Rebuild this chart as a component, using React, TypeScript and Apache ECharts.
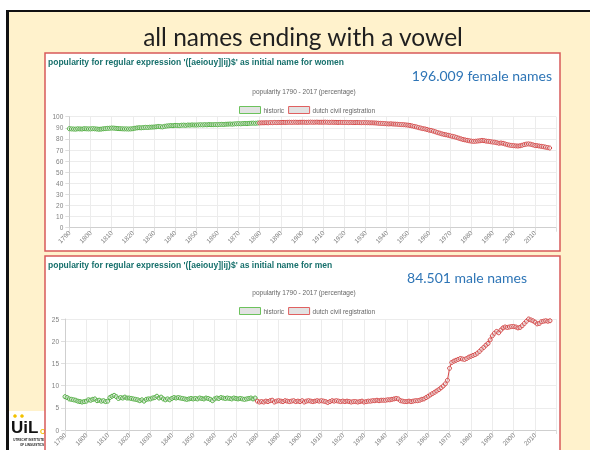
import React, { useEffect, useRef } from "react";
import * as echarts from "echarts";

const slideTitle = "all names ending with a vowel";
const womenTitle = "popularity for regular expression '([aeiouy]|ij)$' as initial name for women";
const menTitle = "popularity for regular expression '([aeiouy]|ij)$' as initial name for men";
const subTitle = "popularity 1790 - 2017 (percentage)";
const womenCount = "196.009 female names";
const menCount = "84.501 male names";
const seriesNames = ["historic", "dutch civil registration"];

const historicStart = 1790;
const civilStart = 1880;

const womenHistoric = [
  89.2, 89.0, 88.9, 88.8, 89.1, 89.0, 88.9, 89.2, 89.1, 89.0,
  89.0, 89.2, 89.1, 88.9, 88.7, 88.8, 89.1, 89.3, 89.5, 89.6,
  89.8, 89.7, 89.5, 89.3, 89.2, 89.1, 89.0, 89.0, 88.9, 89.0,
  89.2, 89.6, 89.9, 90.1, 90.0, 90.2, 90.4, 90.3, 90.5, 90.6,
  90.7, 90.9, 91.2, 91.0, 90.8, 91.3, 91.6, 91.8, 92.0, 91.9,
  92.2, 92.1, 92.0, 92.3, 92.4, 92.2, 92.5, 92.4, 92.6, 92.5,
  92.5, 92.6, 92.7, 92.6, 92.8, 92.7, 92.9, 92.8, 92.8, 92.9,
  92.8, 93.0, 93.1, 93.0, 93.2, 93.3, 93.4, 93.3, 93.5, 93.6,
  93.7, 93.6, 93.8, 93.9, 93.8, 94.0, 94.1, 94.2, 94.1, 94.3,
];
const womenCivil = [
  94.4, 94.5, 94.5, 94.6, 94.5, 94.7, 94.6, 94.8, 94.7, 94.8,
  94.8, 94.9, 94.8, 94.9, 95.0, 94.9, 95.0, 95.0, 94.9, 95.0,
  95.0, 95.0, 94.9, 95.0, 95.1, 95.0, 95.0, 95.1, 95.0, 95.0,
  95.0, 95.1, 95.0, 94.9, 95.0, 94.9, 94.9, 94.8, 94.9, 94.8,
  94.8, 94.8, 94.7, 94.8, 94.7, 94.7, 94.8, 94.7, 94.6, 94.7,
  94.6, 94.6, 94.5, 94.5, 94.4, 94.3, 94.1, 94.0, 93.9, 93.8,
  93.6, 93.5, 93.6, 93.4, 93.3, 93.2, 93.0, 92.9, 92.8, 92.6,
  92.4, 92.1, 91.7, 91.2, 90.8, 90.2, 89.8, 89.3, 89.0, 88.5,
  87.9, 87.6, 87.0, 86.4, 85.7, 85.2, 84.6, 84.1, 83.7, 83.3,
  82.8, 82.3, 81.9, 81.3, 80.7, 80.1, 79.5, 79.1, 78.7, 78.3,
  78.0, 77.8, 77.9, 78.1, 78.3, 78.6, 78.4, 78.0, 77.8, 77.5,
  77.2, 77.0, 76.6, 76.1, 76.3, 76.0, 75.4, 74.8, 74.4, 74.1,
  73.9, 73.7, 73.6, 73.8, 74.3, 74.9, 75.3, 75.5, 75.2, 74.7,
  74.1, 73.9, 73.6, 73.3, 73.0, 72.6, 72.2, 71.8,
];
const menHistoric = [
  7.5, 7.3, 7.0, 6.9, 6.8, 6.7, 6.5, 6.4, 6.3, 6.4,
  6.5, 6.8, 6.7, 6.9, 7.0, 6.6, 6.7, 6.5, 6.6, 6.4,
  6.5, 7.3, 7.6, 7.8, 7.5, 7.1, 7.3, 7.2, 7.4, 7.2,
  7.2, 7.1, 7.0, 6.9, 6.8, 6.6, 6.8, 6.5, 6.9, 7.0,
  7.0, 7.2, 7.3, 7.6, 7.2, 7.4, 7.0, 6.8, 7.0, 6.8,
  7.1, 7.3, 7.2, 7.3, 7.2, 7.1, 7.0, 6.9, 7.0, 7.1,
  7.0, 7.1, 7.0, 7.2, 7.1, 7.0, 7.2, 7.1, 6.9, 6.6,
  7.0, 7.2, 7.1, 7.3, 7.2, 7.1, 7.2, 7.1, 7.0, 7.2,
  7.1, 7.0, 7.1, 7.0, 6.9, 7.0, 7.1, 7.2, 7.0, 7.2,
];
const menCivil = [
  6.5, 6.3, 6.4, 6.3, 6.5, 6.4, 6.6, 6.7, 6.3, 6.5,
  6.6, 6.5, 6.4, 6.6, 6.5, 6.4, 6.5, 6.6, 6.4, 6.5,
  6.4, 6.6, 6.3, 6.5, 6.6, 6.5, 6.4, 6.5, 6.6, 6.5,
  6.6, 6.5, 6.4, 6.2, 6.4, 6.6, 6.5, 6.6, 6.5, 6.4,
  6.5, 6.4, 6.5, 6.4, 6.3, 6.4, 6.4, 6.3, 6.4, 6.5,
  6.3, 6.4, 6.5, 6.5, 6.6, 6.6, 6.7, 6.6, 6.7, 6.7,
  6.7, 6.8, 6.8, 6.9, 7.0, 7.1, 7.0, 6.6, 6.5, 6.4,
  6.4, 6.5, 6.4, 6.5, 6.6, 6.6, 6.7, 6.9, 7.0, 7.3,
  7.6, 7.9, 8.2, 8.5, 8.8, 9.1, 9.5, 9.9, 10.4, 11.2,
  13.9, 15.2, 15.5, 15.7, 15.9, 16.1, 16.0, 15.9, 16.1, 16.4,
  16.6, 16.8, 17.0, 17.3, 17.7, 18.2, 18.6, 19.1, 19.5, 20.3,
  21.2, 21.8, 22.2, 21.9, 22.5, 23.0, 23.2, 23.1, 23.2, 23.3,
  23.3, 23.2, 23.0, 23.1, 23.5, 24.0, 24.5, 25.0, 24.8, 24.6,
  24.3, 23.9, 24.0, 24.4, 24.5, 24.6, 24.5, 24.6,
];

const GREEN = "#4eae3e";
const RED = "#d64545";
const FONT = "Liberation Sans, Arial, sans-serif";

const toPairs = (start: number, vals: number[]) => vals.map((v, i) => [start + i, v]);

export default function App() {
  const ref = useRef<HTMLDivElement>(null);
  useEffect(() => {
    if (!ref.current) return;
    const chart = echarts.init(ref.current, null, { renderer: "svg" });

    const xAxisBase = (gridIndex: number) => ({
      type: "value" as const,
      gridIndex,
      min: 1790,
      max: 2020,
      interval: 10,
      axisLine: { show: true, lineStyle: { color: "#cfcfcf" } },
      axisTick: { show: true, length: 4, lineStyle: { color: "#dedede" } },
      splitLine: { show: true, lineStyle: { color: "#ececec" } },
      axisLabel: {
        rotate: 45,
        fontSize: 6.5,
        color: "#808080",
        fontFamily: FONT,
        margin: 4,
        formatter: (v: number) => (v === 2020 ? "" : String(v)),
      },
    });
    const yAxisBase = (gridIndex: number, max: number, interval: number) => ({
      type: "value" as const,
      gridIndex,
      min: 0,
      max,
      interval,
      axisLine: { show: true, lineStyle: { color: "#cfcfcf" } },
      axisTick: { show: true, length: 4, lineStyle: { color: "#dedede" } },
      splitLine: { show: true, lineStyle: { color: "#ececec" } },
      axisLabel: { fontSize: 6.5, color: "#808080", fontFamily: FONT, margin: 6 },
    });
    const lineSeries = (name: string, color: string, idx: number, data: number[][]) => ({
      type: "line" as const,
      name,
      xAxisIndex: idx,
      yAxisIndex: idx,
      data,
      symbol: "circle",
      symbolSize: 4,
      showSymbol: true,
      lineStyle: { color, width: 1 },
      itemStyle: { color: "rgba(235,235,235,0.6)", borderColor: color, borderWidth: 1 },
      z: 3,
    });
    const legendData = [
      { name: seriesNames[0], itemStyle: { color: "#e2e2e2", borderColor: "#6cc25c", borderWidth: 1 } },
      { name: seriesNames[1], itemStyle: { color: "#e2e2e2", borderColor: "#e06060", borderWidth: 1 } },
    ];
    const legendBase = (top: number) => ({
      top,
      left: 234,
      data: legendData,
      icon: "rect",
      itemWidth: 21,
      itemHeight: 7,
      itemGap: 4,
      textStyle: { fontSize: 6.5, color: "#666", fontFamily: FONT, padding: [0, 0, 0, -2] },
      selectedMode: false,
    });

    const bg = (o: any) => ({ ...o, z: -10, silent: true });

    chart.setOption({
      animation: false,
      graphic: [
        bg({ type: "rect", shape: { x: 0, y: 0, width: 590, height: 450 }, style: { fill: "#ffffff" } }),
        bg({ type: "rect", shape: { x: 9, y: 12, width: 581, height: 438 }, style: { fill: "#fff2cc" } }),
        bg({ type: "line", shape: { x1: 6, y1: 11, x2: 590, y2: 11 }, style: { stroke: "#111", lineWidth: 2 } }),
        bg({ type: "line", shape: { x1: 7.5, y1: 10, x2: 7.5, y2: 450 }, style: { stroke: "#111", lineWidth: 3 } }),
        bg({ type: "rect", shape: { x: 9, y: 411, width: 36, height: 39 }, style: { fill: "#ffffff" } }),
        bg({ type: "text", x: 11, y: 419, style: { text: "UiL", fill: "#111", font: "bold 17px Liberation Sans" } }),
        bg({ type: "circle", shape: { cx: 15, cy: 416, r: 1.8 }, style: { fill: "#f2c200" } }),
        bg({ type: "circle", shape: { cx: 22, cy: 416, r: 1.8 }, style: { fill: "#f2c200" } }),
        bg({ type: "text", x: 40, y: 428, style: { text: "OTS", fill: "#f2c200", font: "bold 7px Liberation Sans" } }),
        bg({ type: "text", x: 44, y: 438, style: { text: "UTRECHT INSTITUTE", fill: "#222", font: "bold 3px Liberation Sans", align: "right" } }),
        bg({ type: "text", x: 44, y: 443, style: { text: "OF LINGUISTICS", fill: "#222", font: "bold 3px Liberation Sans", align: "right" } }),
        bg({ type: "text", x: 303, y: 36, style: { text: slideTitle, fill: "#1f1f1f", font: "24.5px Lato", align: "center", verticalAlign: "middle" } }),
        bg({ type: "rect", shape: { x: 45, y: 53, width: 515, height: 198 }, style: { fill: "#ffffff", stroke: "#d85a5a", lineWidth: 1.5 } }),
        bg({ type: "rect", shape: { x: 45, y: 256, width: 515, height: 200 }, style: { fill: "#ffffff", stroke: "#d85a5a", lineWidth: 1.5 } }),
        { type: "text", x: 48, y: 62, silent: true, style: { text: womenTitle, fill: "#17706c", font: `bold 8.5px ${FONT}`, verticalAlign: "middle" } },
        { type: "text", x: 48, y: 265, silent: true, style: { text: menTitle, fill: "#17706c", font: `bold 8.5px ${FONT}`, verticalAlign: "middle" } },
        { type: "text", x: 552, y: 75, silent: true, style: { text: womenCount, fill: "#2e75b6", font: "14px Lato", align: "right", verticalAlign: "middle" } },
        { type: "text", x: 527, y: 277, silent: true, style: { text: menCount, fill: "#2e75b6", font: "14px Lato", align: "right", verticalAlign: "middle" } },
        { type: "text", x: 304, y: 91, silent: true, style: { text: subTitle, fill: "#666", font: `6.5px ${FONT}`, align: "center", verticalAlign: "middle" } },
        { type: "text", x: 304, y: 292, silent: true, style: { text: subTitle, fill: "#666", font: `6.5px ${FONT}`, align: "center", verticalAlign: "middle" } },
      ],
      legend: [legendBase(101), legendBase(302)],
      grid: [
        { left: 69.3, top: 116.7, width: 486.7, height: 111, containLabel: false },
        { left: 65, top: 319, width: 491.4, height: 111, containLabel: false },
      ],
      xAxis: [xAxisBase(0), xAxisBase(1)],
      yAxis: [yAxisBase(0, 100, 10), yAxisBase(1, 25, 5)],
      series: [
        lineSeries(seriesNames[0], GREEN, 0, toPairs(historicStart, womenHistoric)),
        lineSeries(seriesNames[1], RED, 0, toPairs(civilStart, womenCivil)),
        lineSeries(seriesNames[0], GREEN, 1, toPairs(historicStart, menHistoric)),
        lineSeries(seriesNames[1], RED, 1, toPairs(civilStart, menCivil)),
      ],
    });
    return () => chart.dispose();
  }, []);
  return <div ref={ref} style={{ position: "fixed", left: 0, top: 0, width: 590, height: 450 }} />;
}
